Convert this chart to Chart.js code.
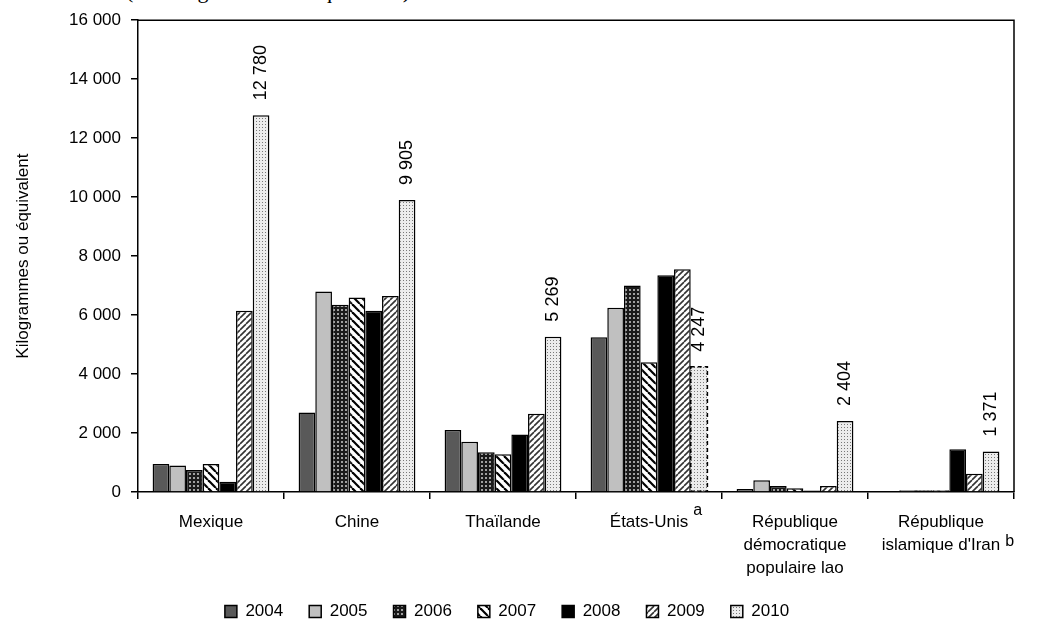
<!DOCTYPE html>
<html>
<head>
<meta charset="utf-8">
<script src="https://cdn.jsdelivr.net/npm/chart.js@4/dist/chart.umd.min.js"></script>
<style>
  html, body { margin: 0; padding: 0; background: #fff; }
  #wrap { position: relative; width: 1054px; height: 630px; overflow: hidden; }
  #note { position: absolute; left: 126px; top: -22px; font: 22px "Liberation Serif", "Times New Roman", serif; color: #000; }
  canvas { position: absolute; left: 0; top: 0; }
</style>
</head>
<body>
<div id="wrap">
  <div id="note">(En kilogrammes ou équivalent)</div>
  <canvas id="seizures" width="1054" height="630"></canvas>
</div>
<script>
// data
var countries = [['Mexique'], ['Chine'], ['Thaïlande'], ['États-Unis'],
                 ['République', 'démocratique', 'populaire lao'], ['République', "islamique d'Iran"]];
var notes = ['', '', '', 'a', '', 'b'];   // superscript note letters after the last label line
var years = ['2004', '2005', '2006', '2007', '2008', '2009', '2010'];
var y2004 = [950, 2700, 2100, 5250, 100, null];
var y2005 = [900, 6800, 1700, 6250, 400, 60];
var y2006 = [750, 6350, 1350, 7000, 200, 60];
var y2007 = [950, 6600, 1280, 4400, 130, 60];
var y2008 = [350, 6150, 1950, 7350, 50, 1450];
var y2009 = [6150, 6650, 2650, 7550, 200, 620];
var y2010 = [12780, 9905, 5269, 4247, 2404, 1371];
var yTicks = [0, 2000, 4000, 6000, 8000, 10000, 12000, 14000, 16000];

var FONT = '"Liberation Sans", Arial, sans-serif';

function fmt(v) {
    return String(v).replace(/\B(?=(\d{3})+(?!\d))/g, ' ');
}

// small pattern tiles
function tile(size, draw) {
    var c = document.createElement('canvas');
    c.width = size; c.height = size;
    var g = c.getContext('2d');
    draw(g, size);
    return g.createPattern(c, 'repeat');
}
var patMesh = tile(4, function(g) {
    g.fillStyle = '#1a1a1a'; g.fillRect(0, 0, 4, 4);
    g.fillStyle = '#a0a0a0'; g.fillRect(1, 1, 2, 2);
});
var patBack = tile(8, function(g, s) {
    g.fillStyle = '#fff'; g.fillRect(0, 0, s, s);
    g.strokeStyle = '#000'; g.lineWidth = 2.2;
    for (var k = -1; k <= 1; k++) {
        g.beginPath(); g.moveTo(k * s, 0); g.lineTo(k * s + s, s); g.stroke();
    }
});
var patFwd = tile(6, function(g, s) {
    g.fillStyle = '#fff'; g.fillRect(0, 0, s, s);
    g.strokeStyle = '#333'; g.lineWidth = 1.6;
    for (var k = 0; k <= 2; k++) {
        g.beginPath(); g.moveTo(k * s, 0); g.lineTo(k * s - s, s); g.stroke();
    }
});
var patDots = tile(3, function(g) {
    g.fillStyle = '#ececec'; g.fillRect(0, 0, 3, 3);
    g.fillStyle = '#787878'; g.fillRect(1, 1, 1, 1);
});

var fills = ['#595959', '#c0c0c0', patMesh, patBack, '#000000', patFwd, patDots];
var series = [y2004, y2005, y2006, y2007, y2008, y2009, y2010];

var datasets = series.map(function(vals, i) {
    return {
        label: years[i],
        data: vals,
        backgroundColor: fills[i],
        borderColor: '#000',
        borderWidth: i === 6 ? function(ctx) { return ctx.dataIndex === 3 ? 0 : 1.5; } : 1.5,
        borderSkipped: 'bottom',
        categoryPercentage: 0.8,
        barPercentage: 1.0
    };
});

var TICK_LEN = 7, TICK_PAD = 12, LINE_H = 23, LABEL_SIZE = 17;

var frameAndLabels = {
    id: 'frameAndLabels',
    afterDatasetsDraw: function(chart) {
        var c = chart.ctx, a = chart.chartArea;
        var meta = chart.getDatasetMeta(6);
        c.save();
        // dashed outline for the États-Unis 2010 bar
        var us = meta.data[3];
        c.strokeStyle = '#000'; c.lineWidth = 1.5; c.setLineDash([4, 3]);
        c.strokeRect(us.x - us.width / 2, us.y, us.width, us.base - us.y);
        c.setLineDash([]);
        // frame top and right
        c.lineWidth = 1.5;
        c.beginPath();
        c.moveTo(a.left, a.top); c.lineTo(a.right, a.top); c.lineTo(a.right, a.bottom);
        c.stroke();
        // rotated value labels over 2010 bars
        c.fillStyle = '#000';
        c.font = '18px ' + FONT;
        c.textAlign = 'left'; c.textBaseline = 'middle';
        meta.data.forEach(function(el, i) {
            c.save();
            c.translate(el.x, el.y - 15);
            c.rotate(-Math.PI / 2);
            c.fillText(fmt(y2010[i]), 0, 0);
            c.restore();
        });
        // note letters after category labels
        var xs = chart.scales.x;
        notes.forEach(function(n, i) {
            if (!n) return;
            var lines = countries[i];
            var last = lines[lines.length - 1];
            c.font = LABEL_SIZE + 'px ' + FONT;
            var w = c.measureText(last).width;
            var cx = xs.getPixelForValue(i);
            var lineTop = xs.top + TICK_LEN + TICK_PAD + (lines.length - 1) * LINE_H;
            c.font = '16px ' + FONT;
            c.textAlign = 'left'; c.textBaseline = 'alphabetic';
            c.fillText(n, cx + w / 2 + 5, lineTop + (lines.length > 1 ? 12 : 4));
        });
        c.restore();
    }
};

new Chart(document.getElementById('seizures'), {
    type: 'bar',
    data: { labels: countries, datasets: datasets },
    options: {
        responsive: false,
        animation: false,
        layout: { padding: { top: 20, right: 40, bottom: 0, left: 0 } },
        plugins: {
            legend: {
                position: 'bottom',
                labels: {
                    color: '#000',
                    font: { family: FONT, size: 17 },
                    boxWidth: 12, boxHeight: 12, padding: 26
                }
            },
            tooltip: { enabled: false }
        },
        scales: {
            x: {
                grid: { display: true, drawOnChartArea: false, offset: true, color: '#000', lineWidth: 1.5, tickLength: TICK_LEN },
                border: { display: true, color: '#000', width: 1.5 },
                ticks: {
                    color: '#000', padding: TICK_PAD, maxRotation: 0, autoSkip: false,
                    font: { family: FONT, size: LABEL_SIZE, lineHeight: LINE_H / LABEL_SIZE }
                },
                afterFit: function(s) { s.height = 85; }
            },
            y: {
                min: 0, max: 16000,
                afterBuildTicks: function(s) { s.ticks = yTicks.map(function(v) { return { value: v }; }); },
                grid: { display: true, drawOnChartArea: false, color: '#000', lineWidth: 1.5, tickLength: TICK_LEN },
                border: { display: true, color: '#000', width: 1.5 },
                ticks: {
                    color: '#000', padding: 10,
                    font: { family: FONT, size: 17 },
                    callback: function(v) { return fmt(v); }
                },
                title: {
                    display: true, text: 'Kilogrammes ou équivalent', color: '#000',
                    font: { family: FONT, size: 17 },
                    padding: { top: 13, bottom: 8 }
                },
                afterFit: function(s) { s.width = 138; }
            }
        }
    },
    plugins: [frameAndLabels]
});
</script>
</body>
</html>
